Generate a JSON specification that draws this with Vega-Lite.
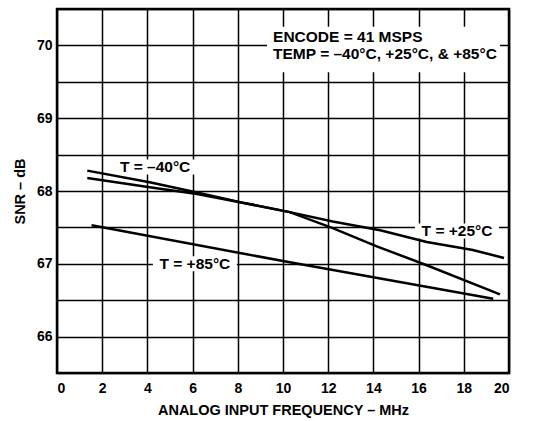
{
  "$schema": "https://vega.github.io/schema/vega-lite/v6.json",
  "autosize": "none",
  "width": 452,
  "height": 364,
  "padding": {"left": 57, "top": 9, "right": 25, "bottom": 48},
  "background": "white",
  "config": {
    "view": {"stroke": "black", "strokeWidth": 2.5},
    "font": "Liberation Sans",
    "axis": {
      "domain": false,
      "ticks": false,
      "grid": true,
      "gridColor": "black",
      "gridOpacity": 1,
      "gridWidth": 1.5,
      "labelFont": "Liberation Sans",
      "labelFontWeight": "bold",
      "labelFontSize": 14,
      "labelColor": "black",
      "titleFont": "Liberation Sans",
      "titleFontWeight": "bold",
      "titleFontSize": 14.5,
      "titleColor": "black"
    }
  },
  "datasets": {
    "curves": [
      {"temp": "-40", "freq": 1.34, "snr": 68.28},
      {"temp": "-40", "freq": 4.1, "snr": 68.12},
      {"temp": "-40", "freq": 6.2, "snr": 67.98},
      {"temp": "-40", "freq": 8.2, "snr": 67.84},
      {"temp": "-40", "freq": 10.3, "snr": 67.71},
      {"temp": "-40", "freq": 12.2, "snr": 67.49},
      {"temp": "-40", "freq": 14.15, "snr": 67.24},
      {"temp": "-40", "freq": 16.36, "snr": 66.98},
      {"temp": "-40", "freq": 19.6, "snr": 66.58},
      {"temp": "+25", "freq": 1.34, "snr": 68.18},
      {"temp": "+25", "freq": 4.1, "snr": 68.05},
      {"temp": "+25", "freq": 6.2, "snr": 67.96},
      {"temp": "+25", "freq": 8.2, "snr": 67.84},
      {"temp": "+25", "freq": 10.3, "snr": 67.71},
      {"temp": "+25", "freq": 12.2, "snr": 67.58},
      {"temp": "+25", "freq": 14.3, "snr": 67.46},
      {"temp": "+25", "freq": 16.36, "snr": 67.30},
      {"temp": "+25", "freq": 18.4, "snr": 67.19},
      {"temp": "+25", "freq": 19.78, "snr": 67.08},
      {"temp": "+85", "freq": 1.53, "snr": 67.53},
      {"temp": "+85", "freq": 10.3, "snr": 67.02},
      {"temp": "+85", "freq": 19.3, "snr": 66.52}
    ],
    "labels": [
      {"freq": 4.34, "snr": 68.33, "text": "T = –40°C"},
      {"freq": 17.7, "snr": 67.45, "text": "T = +25°C"},
      {"freq": 6.1, "snr": 67.0, "text": "T = +85°C"}
    ],
    "notes": [
      {"freq": 9.56, "snr": 70.12, "text": "ENCODE = 41 MSPS"},
      {"freq": 9.56, "snr": 69.88, "text": "TEMP = –40°C, +25°C, & +85°C"}
    ]
  },
  "encoding": {
    "x": {
      "field": "freq", "type": "quantitative",
      "scale": {"domain": [0, 20], "nice": false},
      "axis": {"values": [0, 2, 4, 6, 8, 10, 12, 14, 16, 18, 20], "labelPadding": 8, "title": "ANALOG INPUT FREQUENCY – MHz", "titlePadding": 8}
    },
    "y": {
      "field": "snr", "type": "quantitative",
      "scale": {"domain": [65.5, 70.5], "nice": false, "zero": false},
      "axis": {
        "values": [65.5, 66, 66.5, 67, 67.5, 68, 68.5, 69, 69.5, 70, 70.5],
        "labelExpr": "datum.value % 1 === 0 ? format(datum.value, 'd') : ''",
        "labelOverlap": false,
        "labelPadding": 5,
        "title": "SNR – dB",
        "titlePadding": 9
      }
    }
  },
  "layer": [
    {
      "data": {"name": "labels"},
      "mark": {"type": "point", "filled": true, "color": "white", "opacity": 1, "strokeWidth": 0, "size": 10000, "shape": "M-0.84,-0.15L0.84,-0.15L0.84,0.15L-0.84,0.15Z"}
    },
    {
      "data": {"name": "notes"},
      "mark": {"type": "point", "filled": true, "color": "white", "opacity": 1, "strokeWidth": 0, "size": 40000, "shape": "M-0.06,-0.10L2.27,-0.10L2.27,0.18L-0.06,0.18Z"}
    },
    {
      "data": {"name": "curves"},
      "mark": {"type": "line", "color": "black", "strokeWidth": 2.5},
      "encoding": {
        "detail": {"field": "temp", "type": "nominal"}
      }
    },
    {
      "data": {"name": "labels"},
      "mark": {"type": "text", "fontWeight": "bold", "fontSize": 15.5, "font": "Liberation Sans", "color": "black", "baseline": "middle", "align": "center"},
      "encoding": {"text": {"field": "text"}}
    },
    {
      "data": {"name": "notes"},
      "mark": {"type": "text", "fontWeight": "bold", "fontSize": 15.5, "font": "Liberation Sans", "color": "black", "baseline": "middle", "align": "left"},
      "encoding": {"text": {"field": "text"}}
    }
  ]
}
